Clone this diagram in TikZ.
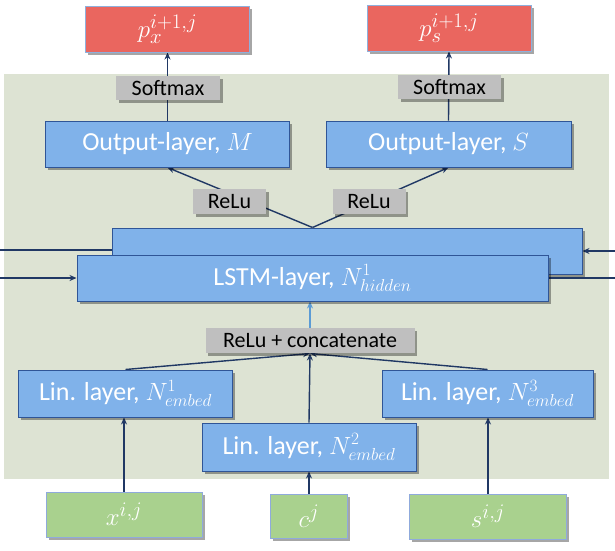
\documentclass[tikz,border=0pt]{standalone}
\usepackage{fontspec}
\setmainfont{Carlito}
\usetikzlibrary{arrows.meta,shadows,calc}
\definecolor{bgpanel}{HTML}{DDE3D3}
\definecolor{bluefill}{HTML}{80B2EA}
\definecolor{blueline}{HTML}{2F5597}
\definecolor{redfill}{HTML}{EA665F}
\definecolor{redline}{HTML}{8FB0DC}
\definecolor{greenfill}{HTML}{A9D18E}
\definecolor{greenline}{HTML}{8FAADC}
\definecolor{grayfill}{HTML}{BFBFBF}
\definecolor{navy}{HTML}{203864}
\definecolor{lightarrow}{HTML}{5B9BD5}
\pgfdeclarelayer{bg}
\pgfdeclarelayer{lines}
\pgfsetlayers{bg,lines,main}
\tikzset{
  box/.style={draw, inner sep=0pt, anchor=center, line width=1pt,
    drop shadow={shadow xshift=2.5pt, shadow yshift=-2.5pt, opacity=0.35, fill=black}},
  bluebox/.style={box, fill=bluefill, draw=blueline, text=white,
    font=\fontsize{26}{30}\selectfont},
  redbox/.style={box, fill=redfill, draw=redline, text=white,
    font=\fontsize{28}{32}\selectfont},
  greenbox/.style={box, fill=greenfill, draw=greenline, text=white,
    font=\fontsize{28}{32}\selectfont},
  graybox/.style={box, draw=none, fill=grayfill, text=black,
    font=\fontsize{22}{24}\selectfont},
  conn/.style={draw=navy, line width=1.4pt, -{Stealth[length=7pt,width=6pt]}},
  plainconn/.style={draw=navy, line width=1.4pt},
}
\begin{document}
\begin{tikzpicture}[x=1pt,y=-1pt]
\useasboundingbox (0,0) rectangle (615,550);
% nodes
\node[redbox, minimum width=164pt, minimum height=46pt] (px) at (167.5,29) {$p_x^{i+1,j}$};
\node[redbox, minimum width=164pt, minimum height=46pt] (ps) at (449,28) {$p_s^{i+1,j}$};
\node[graybox, minimum width=104pt, minimum height=24pt] (smL) at (168,88) {Softmax};
\node[graybox, minimum width=103pt, minimum height=24pt] (smR) at (449.5,87) {Softmax};
\node[bluebox, minimum width=244pt, minimum height=46pt] (outM) at (167.5,144) {Output-layer, $M$};
\node[bluebox, minimum width=245pt, minimum height=46pt] (outS) at (448.5,144) {Output-layer, $S$};
\node[graybox, minimum width=73pt, minimum height=25pt] (reluL) at (229.5,201.5) {ReLu};
\node[graybox, minimum width=73pt, minimum height=25pt] (reluR) at (369,201.5) {ReLu};
\node[bluebox, minimum width=470pt, minimum height=46pt] (lstmB) at (347,251) {};
\node[bluebox, minimum width=471pt, minimum height=46pt] (lstmF) at (312.5,278) {LSTM-layer, $N^1_{hidden}$};
\node[graybox, minimum width=209pt, minimum height=25pt] (concat) at (310,340.5) {ReLu + concatenate};
\node[bluebox, minimum width=214pt, minimum height=47pt] (lin1) at (125.5,393.5) {Lin. layer, $N^1_{embed}$};
\node[bluebox, minimum width=211pt, minimum height=47pt] (lin3) at (487.5,393.5) {Lin. layer, $N^3_{embed}$};
\node[bluebox, minimum width=214pt, minimum height=48pt] (lin2) at (309,447) {Lin. layer, $N^2_{embed}$};
\node[greenbox, minimum width=156pt, minimum height=45pt] (xin) at (124,514.5) {$x^{i,j}$};
\node[greenbox, minimum width=77pt, minimum height=44pt] (cin) at (309,516) {$c^{j}$};
\node[greenbox, minimum width=157pt, minimum height=45pt] (sin) at (488,516.5) {$s^{i,j}$};
% edge coordinates
\coordinate (lB) at (0,250);
\coordinate (lF) at (0,278);
\coordinate (rB) at (615,251);
\coordinate (rF) at (615,278);
\coordinate (top) at (lstmF.north |- lstmB.north);
\begin{pgfonlayer}{bg}
  \fill[bgpanel] (4,74) rectangle (609,479);
\end{pgfonlayer}
\begin{pgfonlayer}{lines}
  \draw[conn] (outM.north) -- (px.south);
  \draw[conn] (outS.north) -- (ps.south);
  \draw[conn] (top) -- (outM.south);
  \draw[conn] (top) -- (outS.south);
  \draw[plainconn] (lB) -- (lB -| lstmB.west);
  \draw[conn] (lF) -- (lF -| lstmF.west);
  \draw[conn] (rB) -- (rB -| lstmB.east);
  \draw[plainconn] (rF -| lstmF.east) -- (rF);
  \draw[draw=lightarrow, line width=1.4pt, -{Stealth[length=7pt,width=6pt]}] (concat.north) -- (concat.north |- lstmF.south);
  \draw[conn] (lin1.north) -- (concat.south);
  \draw[conn] (lin3.north) -- (concat.south);
  \draw[conn] (lin2.north) -- (concat.south);
  \draw[conn] (xin.north) -- (xin.north |- lin1.south);
  \draw[conn] (cin.north) -- (cin.north |- lin2.south);
  \draw[conn] (sin.north) -- (sin.north |- lin3.south);
\end{pgfonlayer}
\end{tikzpicture}
\end{document}
